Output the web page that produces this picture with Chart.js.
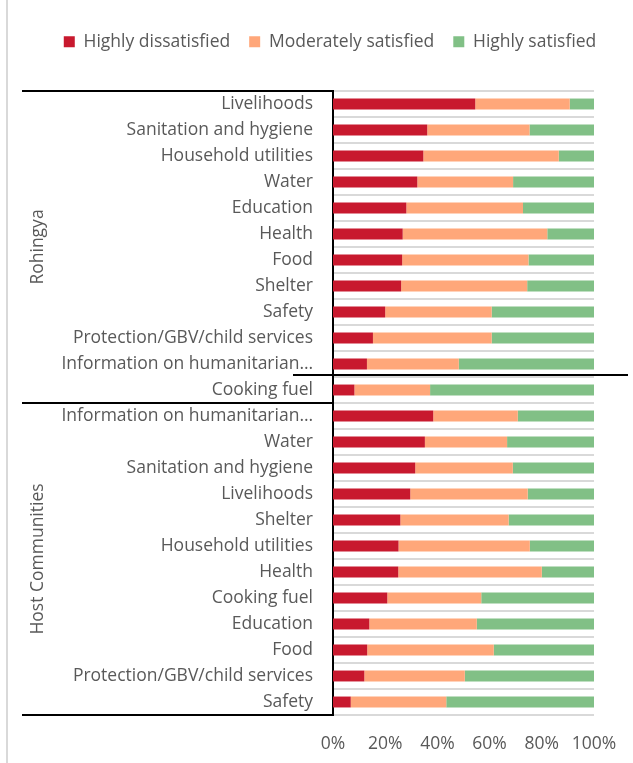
<!DOCTYPE html>
<html>
<head>
<meta charset="utf-8">
<script src="https://cdn.jsdelivr.net/npm/chart.js@4"></script>
<style>
  html, body { margin: 0; padding: 0; background: #fff; }
  #wrap { width: 633px; height: 763px; position: relative; }
</style>
</head>
<body>
<div id="wrap"><canvas id="chart"></canvas></div>
<script>
// categories, top to bottom
var categories = [
  "Livelihoods", "Sanitation and hygiene", "Household utilities", "Water", "Education", "Health",
  "Food", "Shelter", "Safety", "Protection/GBV/child services", "Information on humanitarian…", "Cooking fuel",
  "Information on humanitarian…", "Water", "Sanitation and hygiene", "Livelihoods", "Shelter", "Household utilities",
  "Health", "Cooking fuel", "Education", "Food", "Protection/GBV/child services", "Safety"
];
var groupNames = ["Rohingya", "Host Communities"];
var groupSizes = [12, 12];

var highlyDissatisfied = [54.5, 36.1, 34.6, 32.3, 28.1, 26.7, 26.5, 26.1, 20.0, 15.3, 13.0, 8.2,
                          38.4, 35.2, 31.5, 29.6, 25.8, 25.1, 25.0, 20.8, 13.9, 13.1, 12.0, 6.8];
var moderatelySatisfied = [36.2, 39.2, 51.9, 36.7, 44.7, 55.4, 48.4, 48.3, 40.8, 45.5, 35.2, 29.0,
                           32.4, 31.5, 37.4, 45.0, 41.5, 50.3, 55.0, 36.0, 41.2, 48.5, 38.5, 36.6];
var highlySatisfied = [9.3, 24.7, 13.5, 31.0, 27.2, 17.9, 25.1, 25.6, 39.2, 39.2, 51.8, 62.8,
                       29.2, 33.3, 31.1, 25.4, 32.7, 24.6, 20.0, 43.2, 44.9, 38.4, 49.5, 56.6];
var xTicks = [0, 20, 40, 60, 80, 100];

var FONT = "'Open Sans', 'Noto Sans', sans-serif";
var FSIZE = 17.5;
var TEXT = "#595959";

// taller legend block so the plot starts lower; legend shifted to sit over the plot
var legendSpacer = {
  id: 'legendSpacer',
  beforeInit: function(chart) {
    var fit = chart.legend.fit;
    chart.legend.fit = function() { fit.call(this); this.height = 77; };
  },
  afterLayout: function(chart) {
    chart.legend.left += 22;
    chart.legend.right += 22;
  }
};

// group brackets, outer labels and the chart frame line
var groupPlugin = {
  id: 'groups',
  beforeDraw: function(chart) {
    var ctx = chart.ctx;
    ctx.save();
    ctx.strokeStyle = "#d9d9d9";
    ctx.lineWidth = 2;
    ctx.beginPath();
    ctx.moveTo(7, 0);
    ctx.lineTo(7, chart.height);
    ctx.stroke();
    ctx.restore();
  },
  afterDraw: function(chart) {
    var ctx = chart.ctx, y = chart.scales.y, area = chart.chartArea;
    var half = (y.getPixelForValue(1) - y.getPixelForValue(0)) / 2;
    var xStart = 22;
    ctx.save();
    ctx.strokeStyle = "#000";
    ctx.lineWidth = 2;
    var idx = 0;
    var edges = [y.getPixelForValue(0) - half];
    for (var g = 0; g < groupSizes.length; g++) {
      var top = y.getPixelForValue(idx) - half;
      idx += groupSizes[g];
      var bottom = y.getPixelForValue(idx - 1) + half;
      edges.push(bottom);
      ctx.save();
      ctx.translate(38, (top + bottom) / 2);
      ctx.rotate(-Math.PI / 2);
      ctx.fillStyle = TEXT;
      ctx.font = FSIZE + "px " + FONT;
      ctx.textAlign = "center";
      ctx.textBaseline = "middle";
      ctx.fillText(groupNames[g], 0, 0);
      ctx.restore();
    }
    ctx.beginPath();
    edges.forEach(function(e) {
      ctx.moveTo(xStart, e);
      ctx.lineTo(area.left, e);
    });
    // stray line between the last two Rohingya rows
    var stray = y.getPixelForValue(10) + half - 2;
    ctx.moveTo(area.left - 40, stray);
    ctx.lineTo(area.right + 34, stray);
    ctx.stroke();
    ctx.restore();
  }
};

var ctx = document.getElementById("chart").getContext("2d");
var chart = new Chart(ctx, {
  type: 'bar',
  data: {
    labels: categories,
    datasets: [
      { label: "Highly dissatisfied", data: highlyDissatisfied, backgroundColor: "#C8192E" },
      { label: "Moderately satisfied", data: moderatelySatisfied, backgroundColor: "#FFA77A" },
      { label: "Highly satisfied", data: highlySatisfied, backgroundColor: "#81C086" }
    ]
  },
  options: {
    indexAxis: 'y',
    responsive: true,
    maintainAspectRatio: false,
    animation: false,
    layout: { padding: { left: 22, right: 39, top: 14, bottom: 8 } },
    datasets: { bar: { categoryPercentage: 1, barPercentage: 0.42 } },
    plugins: {
      tooltip: { enabled: false },
      legend: {
        position: 'top',
        labels: {
          boxWidth: 11, boxHeight: 11, padding: 19,
          color: TEXT, font: { family: FONT, size: FSIZE }
        }
      }
    },
    scales: {
      x: {
        stacked: true, min: 0, max: 100,
        afterBuildTicks: function(s) { s.ticks = xTicks.map(function(v) { return { value: v }; }); },
        afterFit: function(s) { s.height = 40; s.paddingLeft = 0; s.paddingRight = 0; },
        grid: { display: false, drawTicks: false },
        border: { display: false },
        ticks: { color: TEXT, font: { family: FONT, size: FSIZE }, padding: 18.5,
                 callback: function(v) { return v + "%"; } }
      },
      y: {
        stacked: true,
        afterFit: function(s) { s.width = 311; s.paddingTop = 0; s.paddingBottom = 0; },
        grid: { color: "#d9d9d9", lineWidth: 2, drawTicks: false, offset: true },
        border: { display: true, color: "#000", width: 2 },
        ticks: { color: TEXT, font: { family: FONT, size: FSIZE }, padding: 20, autoSkip: false }
      }
    }
  },
  plugins: [legendSpacer, groupPlugin]
});
</script>
</body>
</html>
